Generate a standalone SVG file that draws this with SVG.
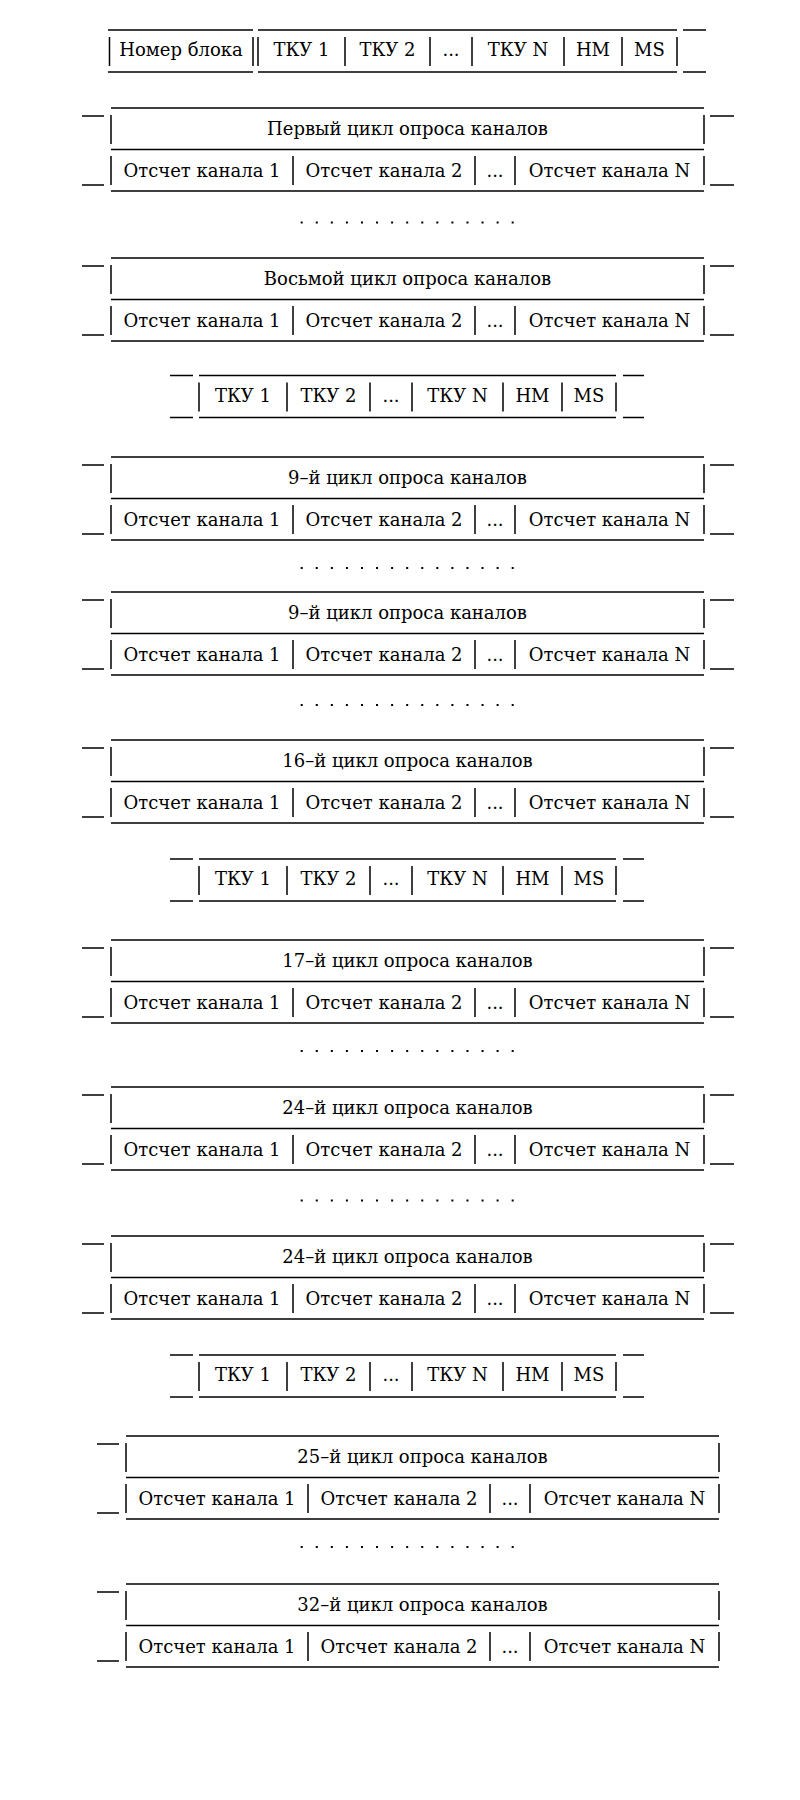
<svg xmlns="http://www.w3.org/2000/svg" width="800" height="1800" viewBox="0 0 800 1800">
<style>
.ln{stroke:#000;stroke-width:1.3;fill:none}
.vl{stroke:#000;stroke-width:1.5;fill:none}
.dt{stroke:#000;stroke-width:2;stroke-dasharray:2 13.07;fill:none}
text{font-family:"DejaVu Serif","Liberation Serif",serif;font-size:18px;fill:#000;text-anchor:middle}
</style>
<rect width="800" height="1800" fill="#fff"/>
<defs>
<path id="blk-lines" class="ln" d="M111 0H704M111 41.5H704M111 83H704M82 8H104M82 77H104"/>
<path id="blk-rdash" class="ln" d="M710 8H734M710 77H734"/>
<path id="blk-vert" class="vl" d="M111 7V36M704 7V36M111 48V77M293 48V77M475 48V77M515 48V77M704 48V77"/>
<path id="hdr-lines" class="ln" d="M170 0H193M170 42H193M199 0H616M199 42H616M623 0H644M623 42H644"/>
<path id="hdr-vert" class="vl" d="M199 7V36M287 7V36M370 7V36M412 7V36M503 7V36M562 7V36M616 7V36"/>
</defs>

<g id="header-1" transform="translate(0,30)">
<path class="ln" d="M108 0H253M108 42H253M258 0H677M258 42H677M683 0H706M683 42H706"/>
<path class="vl" d="M109.5 7V36M253 7V36M258 7V36M345 7V36M430 7V36M472 7V36M564 7V36M622 7V36M677 7V36"/>
<text x="181" y="26">Номер блока</text>
<text x="301.5" y="26">ТКУ 1</text>
<text x="387.5" y="26">ТКУ 2</text>
<text x="451" y="26">...</text>
<text x="518" y="26">ТКУ N</text>
<text x="593" y="26">НМ</text>
<text x="649.5" y="26">MS</text>
</g>

<g id="cycle-1" transform="translate(0,108)">
<use href="#blk-lines"/><use href="#blk-rdash"/><use href="#blk-vert"/>
<text x="407.5" y="27">Первый цикл опроса каналов</text>
<text x="202" y="69">Отсчет канала 1</text><text x="384" y="69">Отсчет канала 2</text><text x="495" y="69">...</text><text x="609.5" y="69">Отсчет канала N</text>
</g>
<g id="dots-1"><path class="dt" d="M300.7 222.5H514"/></g>
<g id="cycle-8" transform="translate(0,258)">
<use href="#blk-lines"/><use href="#blk-rdash"/><use href="#blk-vert"/>
<text x="407.5" y="27">Восьмой цикл опроса каналов</text>
<text x="202" y="69">Отсчет канала 1</text><text x="384" y="69">Отсчет канала 2</text><text x="495" y="69">...</text><text x="609.5" y="69">Отсчет канала N</text>
</g>

<g id="header-2" transform="translate(0,375.5)">
<use href="#hdr-lines"/><use href="#hdr-vert"/>
<text x="243" y="26">ТКУ 1</text><text x="328.5" y="26">ТКУ 2</text><text x="391" y="26">...</text><text x="457.5" y="26">ТКУ N</text><text x="532.5" y="26">НМ</text><text x="589" y="26">MS</text>
</g>

<g id="cycle-9a" transform="translate(0,457)">
<use href="#blk-lines"/><use href="#blk-rdash"/><use href="#blk-vert"/>
<text x="407.5" y="27">9–й цикл опроса каналов</text>
<text x="202" y="69">Отсчет канала 1</text><text x="384" y="69">Отсчет канала 2</text><text x="495" y="69">...</text><text x="609.5" y="69">Отсчет канала N</text>
</g>
<g id="dots-2"><path class="dt" d="M300.7 568H514"/></g>
<g id="cycle-9b" transform="translate(0,592)">
<use href="#blk-lines"/><use href="#blk-rdash"/><use href="#blk-vert"/>
<text x="407.5" y="27">9–й цикл опроса каналов</text>
<text x="202" y="69">Отсчет канала 1</text><text x="384" y="69">Отсчет канала 2</text><text x="495" y="69">...</text><text x="609.5" y="69">Отсчет канала N</text>
</g>
<g id="dots-3"><path class="dt" d="M300.7 705H514"/></g>
<g id="cycle-16" transform="translate(0,740)">
<use href="#blk-lines"/><use href="#blk-rdash"/><use href="#blk-vert"/>
<text x="407.5" y="27">16–й цикл опроса каналов</text>
<text x="202" y="69">Отсчет канала 1</text><text x="384" y="69">Отсчет канала 2</text><text x="495" y="69">...</text><text x="609.5" y="69">Отсчет канала N</text>
</g>

<g id="header-3" transform="translate(0,859)">
<use href="#hdr-lines"/><use href="#hdr-vert"/>
<text x="243" y="26">ТКУ 1</text><text x="328.5" y="26">ТКУ 2</text><text x="391" y="26">...</text><text x="457.5" y="26">ТКУ N</text><text x="532.5" y="26">НМ</text><text x="589" y="26">MS</text>
</g>

<g id="cycle-17" transform="translate(0,940)">
<use href="#blk-lines"/><use href="#blk-rdash"/><use href="#blk-vert"/>
<text x="407.5" y="27">17–й цикл опроса каналов</text>
<text x="202" y="69">Отсчет канала 1</text><text x="384" y="69">Отсчет канала 2</text><text x="495" y="69">...</text><text x="609.5" y="69">Отсчет канала N</text>
</g>
<g id="dots-4"><path class="dt" d="M300.7 1051H514"/></g>
<g id="cycle-24a" transform="translate(0,1087)">
<use href="#blk-lines"/><use href="#blk-rdash"/><use href="#blk-vert"/>
<text x="407.5" y="27">24–й цикл опроса каналов</text>
<text x="202" y="69">Отсчет канала 1</text><text x="384" y="69">Отсчет канала 2</text><text x="495" y="69">...</text><text x="609.5" y="69">Отсчет канала N</text>
</g>
<g id="dots-5"><path class="dt" d="M300.7 1200.5H514"/></g>
<g id="cycle-24b" transform="translate(0,1236)">
<use href="#blk-lines"/><use href="#blk-rdash"/><use href="#blk-vert"/>
<text x="407.5" y="27">24–й цикл опроса каналов</text>
<text x="202" y="69">Отсчет канала 1</text><text x="384" y="69">Отсчет канала 2</text><text x="495" y="69">...</text><text x="609.5" y="69">Отсчет канала N</text>
</g>

<g id="header-4" transform="translate(0,1355)">
<use href="#hdr-lines"/><use href="#hdr-vert"/>
<text x="243" y="26">ТКУ 1</text><text x="328.5" y="26">ТКУ 2</text><text x="391" y="26">...</text><text x="457.5" y="26">ТКУ N</text><text x="532.5" y="26">НМ</text><text x="589" y="26">MS</text>
</g>

<g id="cycle-25" transform="translate(15,1436)">
<use href="#blk-lines"/><use href="#blk-vert"/>
<text x="407.5" y="27">25–й цикл опроса каналов</text>
<text x="202" y="69">Отсчет канала 1</text><text x="384" y="69">Отсчет канала 2</text><text x="495" y="69">...</text><text x="609.5" y="69">Отсчет канала N</text>
</g>
<g id="dots-6"><path class="dt" d="M300.7 1547H514"/></g>
<g id="cycle-32" transform="translate(15,1584)">
<use href="#blk-lines"/><use href="#blk-vert"/>
<text x="407.5" y="27">32–й цикл опроса каналов</text>
<text x="202" y="69">Отсчет канала 1</text><text x="384" y="69">Отсчет канала 2</text><text x="495" y="69">...</text><text x="609.5" y="69">Отсчет канала N</text>
</g>
</svg>
